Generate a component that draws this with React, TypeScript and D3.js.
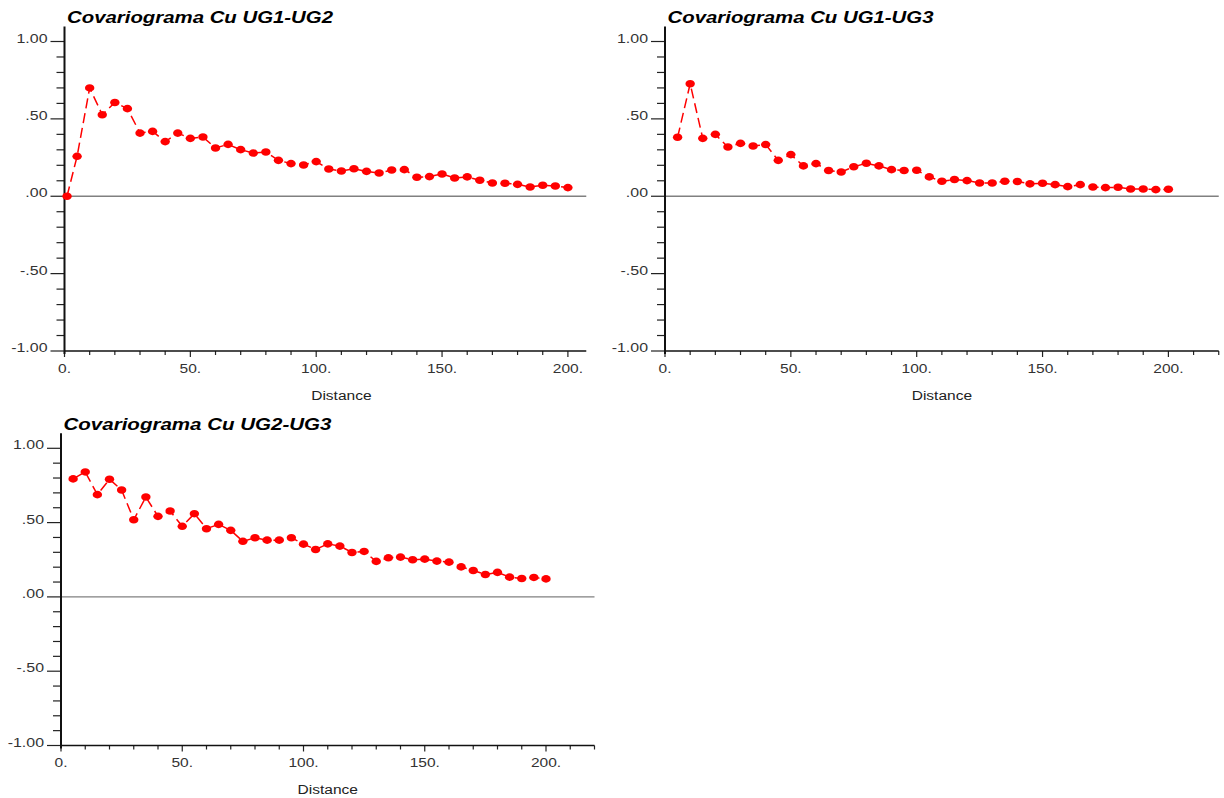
import React, { useEffect, useRef } from 'react'
import * as d3 from 'd3'

// lag distances and covariance values
const lagsUG1UG2 = [1, 5, 10, 15, 20, 25, 30, 35, 40, 45, 50, 55, 60, 65, 70, 75, 80, 85, 90, 95, 100,
  105, 110, 115, 120, 125, 130, 135, 140, 145, 150, 155, 160, 165, 170, 175, 180, 185, 190, 195, 200]
const covUG1UG2 = [0.0, 0.258, 0.70, 0.527, 0.606, 0.566, 0.408, 0.419, 0.353, 0.408, 0.374, 0.383,
  0.312, 0.335, 0.301, 0.279, 0.286, 0.232, 0.211, 0.202, 0.224, 0.176, 0.163, 0.178, 0.161, 0.150,
  0.170, 0.172, 0.123, 0.127, 0.144, 0.118, 0.125, 0.103, 0.086, 0.084, 0.077, 0.060, 0.071, 0.066, 0.056]

const lagsUG1UG3 = [5, 10, 15, 20, 25, 30, 35, 40, 45, 50, 55, 60, 65, 70, 75, 80, 85, 90, 95, 100,
  105, 110, 115, 120, 125, 130, 135, 140, 145, 150, 155, 160, 165, 170, 175, 180, 185, 190, 195, 200]
const covUG1UG3 = [0.381, 0.727, 0.374, 0.400, 0.318, 0.342, 0.325, 0.334, 0.232, 0.269, 0.196, 0.211,
  0.166, 0.157, 0.191, 0.213, 0.196, 0.172, 0.166, 0.168, 0.125, 0.097, 0.108, 0.101, 0.086, 0.086,
  0.097, 0.095, 0.080, 0.084, 0.075, 0.062, 0.075, 0.060, 0.056, 0.058, 0.047, 0.047, 0.043, 0.045]

const lagsUG2UG3 = [5, 10, 15, 20, 25, 30, 35, 40, 45, 50, 55, 60, 65, 70, 75, 80, 85, 90, 95, 100,
  105, 110, 115, 120, 125, 130, 135, 140, 145, 150, 155, 160, 165, 170, 175, 180, 185, 190, 195, 200]
const covUG2UG3 = [0.794, 0.841, 0.688, 0.792, 0.719, 0.519, 0.672, 0.542, 0.578, 0.475, 0.560, 0.459,
  0.488, 0.448, 0.374, 0.398, 0.382, 0.382, 0.398, 0.355, 0.319, 0.357, 0.342, 0.299, 0.306, 0.239,
  0.263, 0.268, 0.250, 0.254, 0.241, 0.234, 0.202, 0.178, 0.151, 0.165, 0.133, 0.124, 0.131, 0.121]

const yMajorTicks = [1, 0.5, 0, -0.5, -1]
const yTickLabels = ['1.00', '.50', '.00', '-.50', '-1.00']
const xMajorTicks = [0, 50, 100, 150, 200]
const xTickLabels = ['0.', '50.', '100.', '150.', '200.']

const titles = ['Covariograma Cu UG1-UG2', 'Covariograma Cu UG1-UG3', 'Covariograma Cu UG2-UG3']

const FONT = '"Liberation Sans", Arial, Helvetica, sans-serif'
const RED = '#ff0000'

type PanelCfg = {
  title: string
  lags: number[]
  values: number[]
  x0: number
  xMax: number
  pxPerUnit: number
  yTop: number
  yBottom: number
  titleWidth: number
}

const panels: PanelCfg[] = [
  { title: titles[0], lags: lagsUG1UG2, values: covUG1UG2, x0: 64.5, xMax: 207.3, pxPerUnit: 2.517, yTop: 41.5, yBottom: 351, titleWidth: 266 },
  { title: titles[1], lags: lagsUG1UG3, values: covUG1UG3, x0: 665, xMax: 220, pxPerUnit: 2.517, yTop: 41.5, yBottom: 351, titleWidth: 266 },
  { title: titles[2], lags: lagsUG2UG3, values: covUG2UG3, x0: 61, xMax: 220, pxPerUnit: 2.425, yTop: 448.3, yBottom: 745.5, titleWidth: 268 },
]

function drawPanel(g: d3.Selection<SVGGElement, unknown, null, undefined>, p: PanelCfg) {
  const x = d3.scaleLinear().domain([0, p.xMax]).range([p.x0, p.x0 + p.xMax * p.pxPerUnit])
  const y = d3.scaleLinear().domain([-1, 1]).range([p.yBottom, p.yTop])
  const xEnd = x(p.xMax)

  // title
  g.append('text')
    .text(p.title)
    .attr('x', p.x0 + 2.5)
    .attr('y', p.yTop - 18.5)
    .attr('font-family', FONT)
    .attr('font-weight', 'bold')
    .attr('font-style', 'italic')
    .attr('font-size', 16.5)
    .attr('textLength', p.titleWidth)
    .attr('lengthAdjust', 'spacingAndGlyphs')
    .attr('fill', '#000')

  // zero line
  g.append('line')
    .attr('x1', p.x0).attr('x2', xEnd)
    .attr('y1', y(0)).attr('y2', y(0))
    .attr('stroke', '#808080')
    .attr('stroke-width', 1.3)

  // y minor ticks
  const yMinor = d3.range(-10, 11).map(i => i / 10)
  g.append('g').selectAll('line')
    .data(yMinor)
    .join('line')
    .attr('x1', d => (Math.abs(d * 2 - Math.round(d * 2)) < 1e-6 ? p.x0 - 14 : p.x0 - 8))
    .attr('x2', p.x0)
    .attr('y1', d => y(d)).attr('y2', d => y(d))
    .attr('stroke', '#222')
    .attr('stroke-width', 1.2)

  // y labels
  g.append('g').selectAll('text')
    .data(yMajorTicks)
    .join('text')
    .text((d, i) => yTickLabels[i])
    .attr('transform', d => `translate(${p.x0 - 17},${y(d) + 1}) scale(1.18,1)`)
    .attr('text-anchor', 'end')
    .attr('font-family', FONT)
    .attr('font-size', 13.5)
    .attr('fill', '#333')

  // x minor ticks
  const xMinor = d3.range(0, Math.floor(p.xMax / 10) + 1).map(i => i * 10)
  g.append('g').selectAll('line')
    .data(xMinor)
    .join('line')
    .attr('x1', d => x(d)).attr('x2', d => x(d))
    .attr('y1', p.yBottom)
    .attr('y2', d => (d % 50 === 0 ? p.yBottom + 6 : p.yBottom + 4))
    .attr('stroke', '#222')
    .attr('stroke-width', 1.2)

  // x labels
  g.append('g').selectAll('text')
    .data(xMajorTicks)
    .join('text')
    .text((d, i) => xTickLabels[i])
    .attr('transform', d => `translate(${x(d)},${p.yBottom + 21.5}) scale(1.15,1)`)
    .attr('text-anchor', 'middle')
    .attr('font-family', FONT)
    .attr('font-size', 13.5)
    .attr('fill', '#333')

  // axis title
  g.append('text')
    .text('Distance')
    .attr('transform', `translate(${x(110)},${p.yBottom + 48.5}) scale(1.15,1)`)
    .attr('text-anchor', 'middle')
    .attr('font-family', FONT)
    .attr('font-size', 13.5)
    .attr('fill', '#222')

  // axes
  g.append('line')
    .attr('x1', p.x0).attr('x2', xEnd)
    .attr('y1', p.yBottom).attr('y2', p.yBottom)
    .attr('stroke', '#111')
    .attr('stroke-width', 1.6)
  g.append('line')
    .attr('x1', p.x0).attr('x2', p.x0)
    .attr('y1', p.yTop - 15).attr('y2', p.yBottom + 3)
    .attr('stroke', '#111')
    .attr('stroke-width', 2)

  // series
  const pts: [number, number][] = p.lags.map((l, i) => [l, p.values[i]])
  const line = d3.line<[number, number]>()
    .x(d => x(d[0]))
    .y(d => y(d[1]))
  g.append('path')
    .attr('d', line(pts))
    .attr('fill', 'none')
    .attr('stroke', RED)
    .attr('stroke-width', 1.5)
    .attr('stroke-dasharray', '10,5')

  g.append('g').selectAll('ellipse')
    .data(pts)
    .join('ellipse')
    .attr('cx', d => x(d[0]))
    .attr('cy', d => y(d[1]))
    .attr('rx', 4.7)
    .attr('ry', 3.8)
    .attr('fill', RED)
}

function App() {
  const ref = useRef<SVGSVGElement>(null)

  useEffect(() => {
    const svg = d3.select(ref.current)
    svg.selectAll('*').remove()
    svg.append('rect').attr('width', 1224).attr('height', 798).attr('fill', '#fff')
    panels.forEach(p => drawPanel(svg.append('g'), p))
  }, [])

  return (
    <svg
      ref={ref}
      width={1224}
      height={798}
      style={{ position: 'absolute', left: 0, top: 0, display: 'block' }}
    />
  )
}

export default App
